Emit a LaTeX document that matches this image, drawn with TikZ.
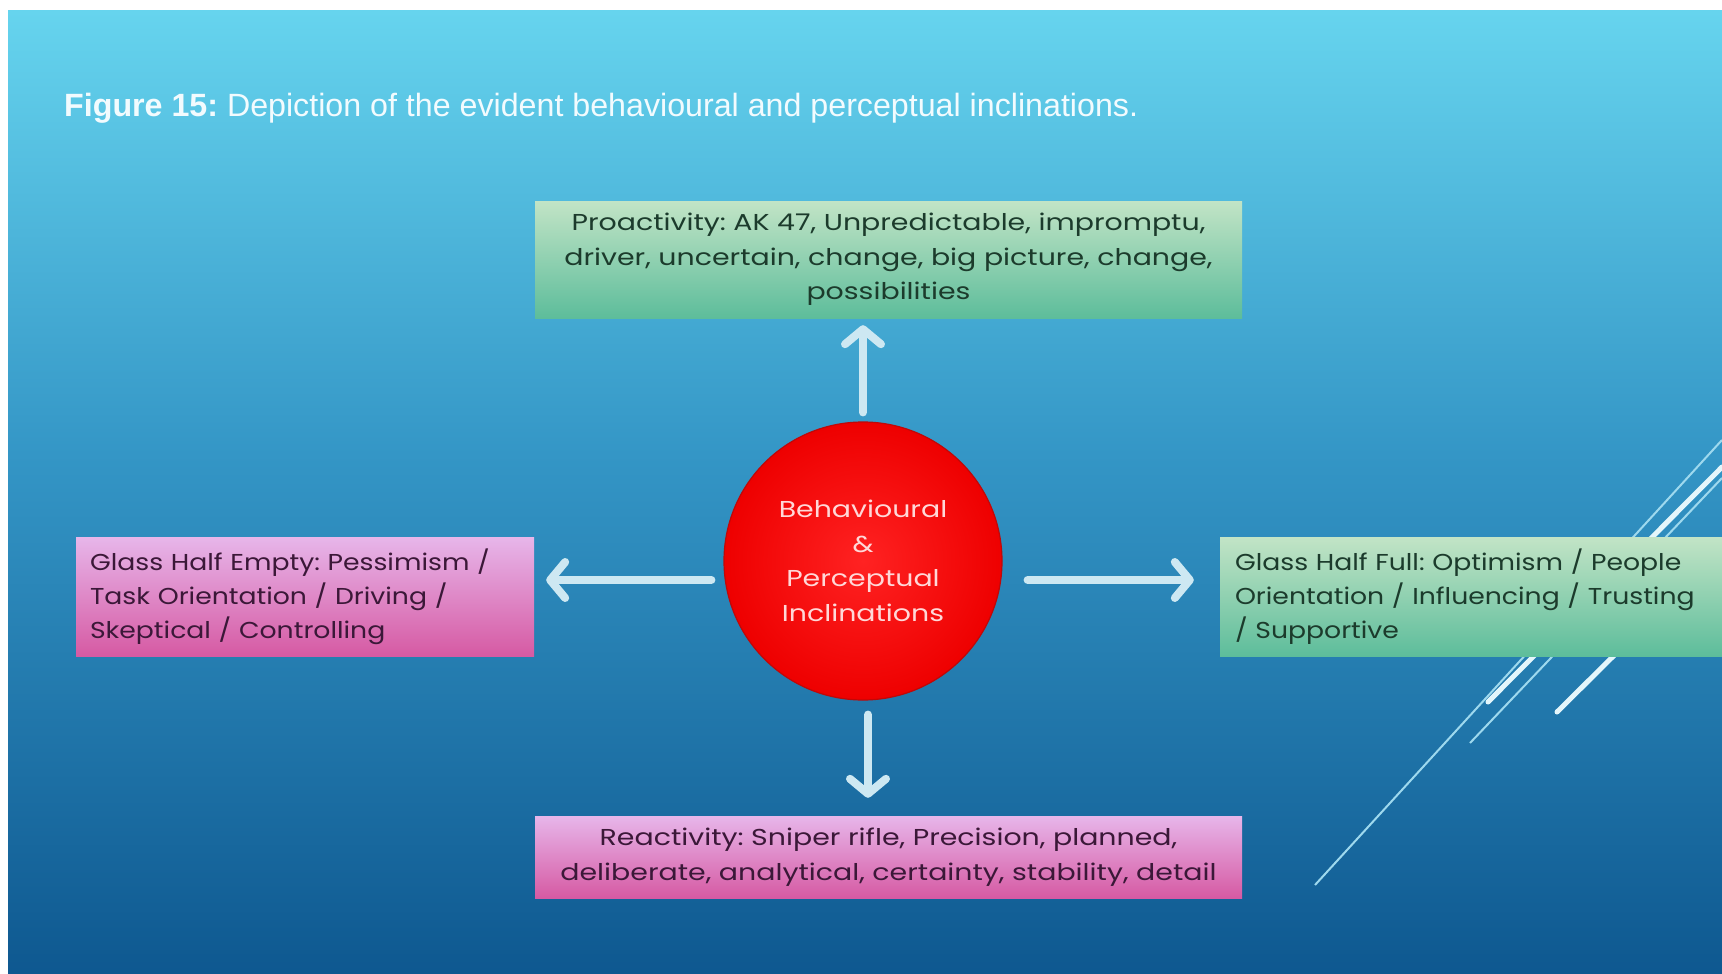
\documentclass[tikz,border=0pt]{standalone}
\usepackage{fontspec}
\setmainfont{Poppins}
\newfontfamily\titlefont{Liberation Sans}
\newfontfamily\widefont[FakeStretch=1.235]{Poppins}
\newfontfamily\sidefont[FakeStretch=1.16]{Poppins}
\usetikzlibrary{arrows.meta}
\frenchspacing

\definecolor{bgtop}{HTML}{66D4EE}
\definecolor{bgmid}{HTML}{3496C6}
\definecolor{bgbot}{HTML}{0E5890}
\definecolor{greentop}{HTML}{C2E4C6}
\definecolor{greenbot}{HTML}{5DBD9B}
\definecolor{pinktop}{HTML}{E7B6EA}
\definecolor{pinkbot}{HTML}{D65AA3}
\definecolor{greentext}{HTML}{1C3B2C}
\definecolor{pinktext}{HTML}{3B1838}
\definecolor{arrowc}{HTML}{CDE8F2}
\definecolor{ballin}{HTML}{FF2222}
\definecolor{ballout}{HTML}{EE0000}
\definecolor{ballrim}{HTML}{C00808}
\definecolor{balltext}{HTML}{FFD8D8}
\definecolor{streak}{HTML}{E4F6FB}
\definecolor{streakthin}{HTML}{9ED9EE}
\definecolor{titlec}{HTML}{F2FBFE}

% vertical backdrop: the path spans 25bp (bottom) to 75bp (top)
\pgfdeclareverticalshading{backdrop}{100bp}{color(0bp)=(bgbot); color(25bp)=(bgbot); color(52bp)=(bgmid); color(75bp)=(bgtop); color(100bp)=(bgtop)}

\tikzset{
  boxtext/.style={inner sep=0pt},
  widetext/.style={font=\widefont\fontsize{23}{34.5}\selectfont},
  sidetext/.style={font=\sidefont\fontsize{23}{34}\selectfont},
  greenbox/.style={boxtext, top color=greentop, bottom color=greenbot, text=greentext},
  pinkbox/.style={boxtext, top color=pinktop, bottom color=pinkbot, text=pinktext},
  flowarrow/.style={draw=arrowc, line width=8pt, line cap=round,
    -{Straight Barb[length=15pt, width=36pt, line cap=round, line join=round]}},
}

\begin{document}
\begin{tikzpicture}[x=1pt, y=-1pt]
  \useasboundingbox (0,0) rectangle (1722,974);
  \fill[white] (0,0) rectangle (1722,974);
  \shade[shading=backdrop] (8,11) rectangle (1722,974);

  % decorative streaks at the right edge
  \draw[streakthin, line width=2pt] (1722,440) -- (1315,885);
  \draw[streakthin, line width=2pt] (1722,478) -- (1470,743);
  \draw[streak, line width=5pt, line cap=round] (1722,467) -- (1488,702);
  \draw[streak, line width=5pt, line cap=round] (1680,590) -- (1557,712);

  % title
  \node[anchor=base west, inner sep=0pt, text=titlec, font=\titlefont\fontsize{32.2}{36}\selectfont]
    (title) at (64,116) {\textbf{Figure 15:} Depiction of the evident behavioural and perceptual inclinations.};

  % boxes
  \node[greenbox, widetext, align=center, minimum width=707pt, minimum height=117pt] (top) at (888.5,259.5)
    {Proactivity: AK 47, Unpredictable, impromptu,\\ driver, uncertain, change, big picture, change,\\ possibilities};
  \node[pinkbox, widetext, align=center, minimum width=707pt, minimum height=82pt] (bot) at (888.5,857)
    {Reactivity: Sniper rifle, Precision, planned,\\ deliberate, analytical, certainty, stability, detail};
  \node[pinkbox, sidetext, align=left, text width=430pt, minimum height=119pt, inner xsep=14pt] (left) at (305,596.5)
    {Glass Half Empty: Pessimism /\\ Task Orientation / Driving /\\ Skeptical / Controlling};
  \node[greenbox, sidetext, align=left, text width=472pt, minimum height=119pt, inner xsep=15pt] (right) at (1471,596.5)
    {Glass Half Full: Optimism / People\\ Orientation / Influencing / Trusting\\ / Supportive};

  % centre ball
  \node[circle, minimum size=278pt, inner sep=0pt, inner color=ballin, outer color=ballout,
        draw=ballrim, line width=1.2pt, text=balltext, align=center,
        font=\widefont\fontsize{23}{34.5}\selectfont] (c) at (863,561)
    {Behavioural\\ \&\\ Perceptual\\ Inclinations};

  % arrows
  \draw[flowarrow, shorten <=9pt, shorten >=7pt] (c.north) -- (c.north |- top.south);
  \draw[flowarrow, shorten <=14pt, shorten >=18pt] ([xshift=5pt]c.south) -- ([xshift=5pt]c.south |- bot.north);
  \draw[flowarrow, shorten <=12pt, shorten >=12pt] ([yshift=-19pt]c.west) -- ([yshift=-19pt]c.west -| left.east);
  \draw[flowarrow, shorten <=25pt, shorten >=26pt] ([yshift=-19pt]c.east) -- ([yshift=-19pt]c.east -| right.west);
\end{tikzpicture}
\end{document}
